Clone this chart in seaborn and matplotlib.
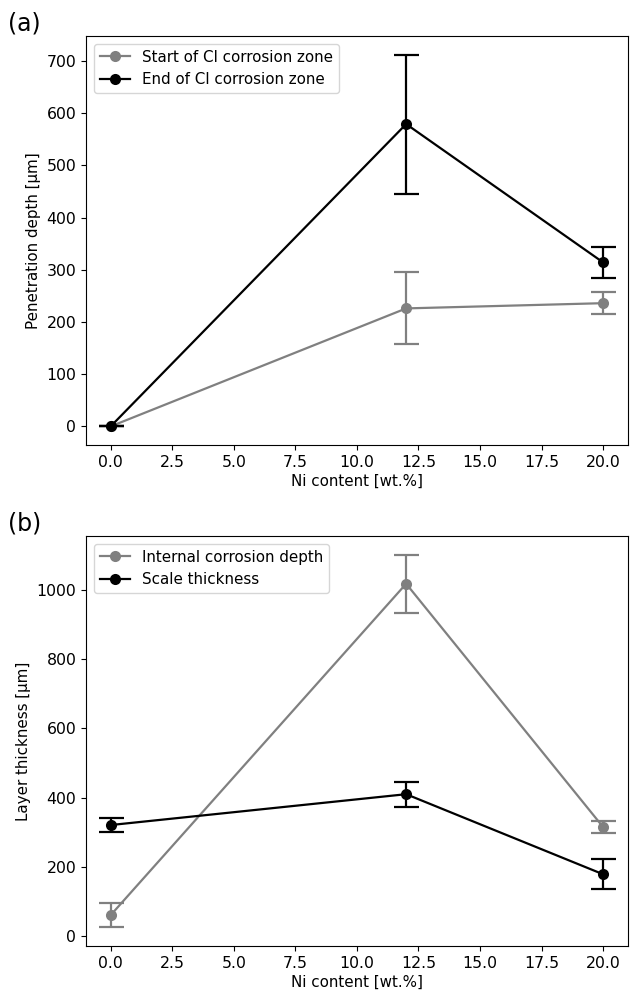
import numpy as np
import pandas as pd
import matplotlib
matplotlib.use("Agg")
import matplotlib.pyplot as plt
import seaborn as sns

# ── Données ─────────────────────────────────────────
ni_content = [0.0, 12.0, 20.0]

# (a) profondeur de pénétration
start_cl = [0, 226, 236]
start_cl_err = [0, 69, 21]
end_cl = [0, 579, 314]
end_cl_err = [0, 133, 29]

# (b) épaisseur des couches
internal_depth = [61, 1017, 315]
internal_depth_err = [35, 84, 17]
scale_thick = [321, 410, 179]
scale_thick_err = [20, 36, 43]

GRAY = "#808080"
BLACK = "#000000"
FS_TICK = 11.3
FS_LAB = 10.9

plt.rcParams["font.family"] = ["DejaVu Sans"]

fig = plt.figure(figsize=(6.3, 9.92), dpi=100)
ax_a = fig.add_axes([0.1365, 0.5514, 0.860, 0.4123])
ax_b = fig.add_axes([0.1365, 0.0464, 0.860, 0.4133])


def draw_panel(ax, series, ylabel):
    for label, vals, errs, color in series:
        df = pd.DataFrame({"x": ni_content, "y": vals})
        sns.lineplot(data=df, x="x", y="y", ax=ax, color=color, marker="o",
                     markersize=8, markeredgewidth=0, linewidth=1.6, label=label)
        ax.errorbar(ni_content, vals, yerr=errs, fmt="none", ecolor=color,
                    elinewidth=1.6, capsize=9, capthick=1.6)
    ax.set_xlabel("Ni content [wt.%]", fontsize=FS_LAB, labelpad=3)
    ax.set_ylabel(ylabel, fontsize=FS_LAB)
    ax.tick_params(labelsize=FS_TICK)
    ax.set_xticks(np.arange(0, 20.1, 2.5))
    ax.legend(loc="upper left", fontsize=FS_LAB, handlelength=2.0)


draw_panel(ax_a, [("Start of Cl corrosion zone", start_cl, start_cl_err, GRAY),
                  ("End of Cl corrosion zone", end_cl, end_cl_err, BLACK)],
           "Penetration depth [µm]")
draw_panel(ax_b, [("Internal corrosion depth", internal_depth, internal_depth_err, GRAY),
                  ("Scale thickness", scale_thick, scale_thick_err, BLACK)],
           "Layer thickness [µm]")

fig.text(0.012, 0.976, "(a)", fontsize=17, va="center", ha="left")
fig.text(0.012, 0.472, "(b)", fontsize=17, va="center", ha="left")

fig.savefig("out.png", dpi=100)
